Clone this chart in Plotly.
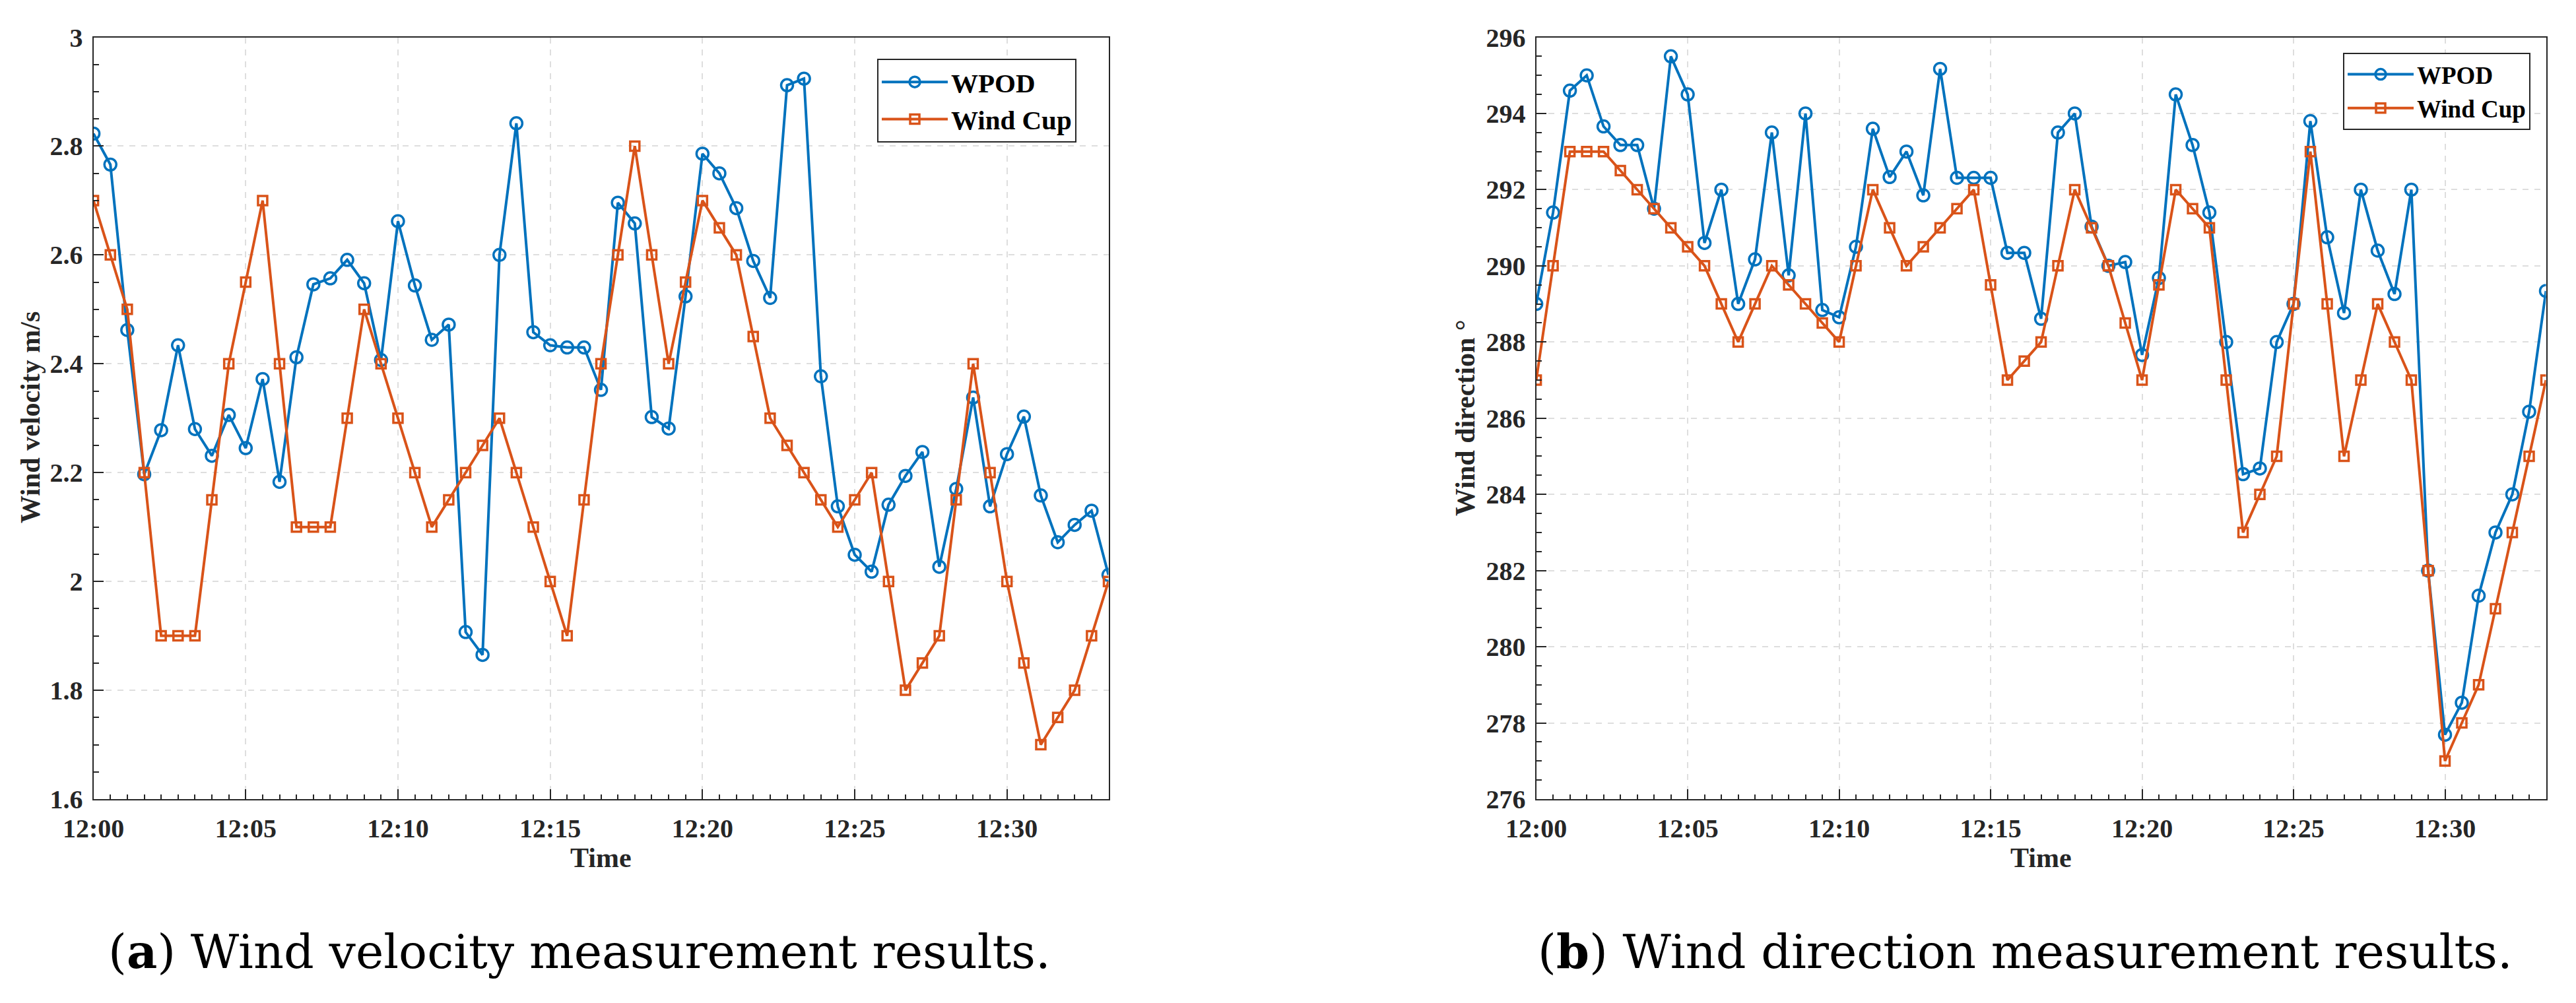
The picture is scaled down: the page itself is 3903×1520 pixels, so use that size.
import plotly.graph_objects as go

# ---------------- data ----------------
idx = list(range(61))  # samples every 1/9 of 5 minutes (12:00 -> 12:33:20)
tick_pos = [0, 9, 18, 27, 36, 45, 54]
tick_text = ["12:00", "12:05", "12:10", "12:15", "12:20", "12:25", "12:30"]

vel_wpod = [2.823, 2.766, 2.462, 2.197, 2.278, 2.434, 2.280, 2.231, 2.306, 2.245,
            2.372, 2.183, 2.412, 2.546, 2.557, 2.591, 2.548, 2.407, 2.662, 2.544,
            2.444, 2.472, 1.907, 1.865, 2.600, 2.842, 2.458, 2.434, 2.430, 2.430,
            2.352, 2.696, 2.658, 2.302, 2.281, 2.524, 2.786, 2.750, 2.686, 2.589,
            2.521, 2.912, 2.924, 2.377, 2.138, 2.049, 2.018, 2.141, 2.194, 2.238,
            2.027, 2.170, 2.338, 2.138, 2.234, 2.303, 2.158, 2.072, 2.104, 2.130,
            2.012]
vel_cup = [2.70, 2.60, 2.50, 2.20, 1.90, 1.90, 1.90, 2.15, 2.40, 2.55,
           2.70, 2.40, 2.10, 2.10, 2.10, 2.30, 2.50, 2.40, 2.30, 2.20,
           2.10, 2.15, 2.20, 2.25, 2.30, 2.20, 2.10, 2.00, 1.90, 2.15,
           2.40, 2.60, 2.80, 2.60, 2.40, 2.55, 2.70, 2.65, 2.60, 2.45,
           2.30, 2.25, 2.20, 2.15, 2.10, 2.15, 2.20, 2.00, 1.80, 1.85,
           1.90, 2.15, 2.40, 2.20, 2.00, 1.85, 1.70, 1.75, 1.80, 1.90,
           2.00]

dir_wpod = [289.0, 291.4, 294.6, 295.0, 293.66, 293.17, 293.17, 291.5, 295.5, 294.5,
            290.6, 292.0, 289.0, 290.17, 293.5, 289.75, 294.0, 288.84, 288.65, 290.5,
            293.6, 292.33, 293.0, 291.85, 295.17, 292.31, 292.31, 292.31, 290.34, 290.34,
            288.61, 293.5, 294.0, 291.03, 290.0, 290.1, 287.66, 289.68, 294.5, 293.17,
            291.4, 288.0, 284.53, 284.68, 288.0, 289.0, 293.8, 290.75, 288.76, 292.0,
            290.4, 289.26, 292.0, 282.0, 277.69, 278.53, 281.34, 283.0, 284.0, 286.17,
            289.34]
dir_cup = [287.0, 290.0, 293.0, 293.0, 293.0, 292.5, 292.0, 291.5, 291.0, 290.5,
           290.0, 289.0, 288.0, 289.0, 290.0, 289.5, 289.0, 288.5, 288.0, 290.0,
           292.0, 291.0, 290.0, 290.5, 291.0, 291.5, 292.0, 289.5, 287.0, 287.5,
           288.0, 290.0, 292.0, 291.0, 290.0, 288.5, 287.0, 289.5, 292.0, 291.5,
           291.0, 287.0, 283.0, 284.0, 285.0, 289.0, 293.0, 289.0, 285.0, 287.0,
           289.0, 288.0, 287.0, 282.0, 277.0, 278.0, 279.0, 281.0, 283.0, 285.0,
           287.0]

series_names = ["WPOD", "Wind Cup"]
captions = ["(<b>a</b>) Wind velocity measurement results.",
            "(<b>b</b>) Wind direction measurement results."]
y_titles = ["Wind velocity m/s", "Wind direction °"]

# ---------------- style ----------------
W, H = 3903, 1520
BLUE = "#0072BD"
ORANGE = "#D95319"
AX = "#262626"
GRID = "#dedede"
FONT = "Liberation Serif"

def px_x(p):
    return p / W

def px_y(p):
    return 1 - p / H

left_dom = [px_x(141.6), px_x(1679.5)]
right_dom = [px_x(2327.6), px_x(3857.5)]
y_dom = [px_y(1211), px_y(56.5)]

fig = go.Figure()

def add_pair(xa, ya, wpod, cup, legend):
    fig.add_trace(go.Scatter(
        x=idx, y=wpod, name=series_names[0], mode="lines+markers",
        xaxis=xa, yaxis=ya, legend=legend,
        line=dict(color=BLUE, width=4),
        marker=dict(symbol="circle-open", size=18, color=BLUE, line=dict(width=3.5, color=BLUE))))
    fig.add_trace(go.Scatter(
        x=idx, y=cup, name=series_names[1], mode="lines+markers",
        xaxis=xa, yaxis=ya, legend=legend,
        line=dict(color=ORANGE, width=4),
        marker=dict(symbol="square-open", size=14, color=ORANGE, line=dict(width=3.5, color=ORANGE))))

add_pair("x", "y", vel_wpod, vel_cup, "legend")
add_pair("x2", "y2", dir_wpod, dir_cup, "legend2")

tickfont = dict(family=FONT, size=40, color=AX, weight="bold")

def xaxis(dom, anchor):
    return dict(domain=dom, anchor=anchor, range=[0, 60], automargin=False,
                tickmode="array", tickvals=tick_pos, ticktext=tick_text,
                ticks="inside", ticklen=15, tickwidth=2, tickcolor=AX,
                minor=dict(dtick=1, tick0=0, ticks="inside", ticklen=7, tickwidth=2,
                           tickcolor=AX, showgrid=False),
                showline=True, linecolor=AX, linewidth=2, mirror=True,
                showgrid=True, gridcolor=GRID, griddash="dash", gridwidth=2,
                zeroline=False, tickfont=tickfont, ticklabelstandoff=8)

def yaxis(dom, anchor, rng, dtick, mdtick):
    return dict(domain=dom, anchor=anchor, range=rng, automargin=False,
                tickmode="linear", tick0=rng[0], dtick=dtick,
                ticks="inside", ticklen=15, tickwidth=2, tickcolor=AX,
                minor=dict(dtick=mdtick, tick0=rng[0], ticks="inside", ticklen=8, tickwidth=2,
                           tickcolor=AX, showgrid=False),
                showline=True, linecolor=AX, linewidth=2, mirror=True,
                showgrid=True, gridcolor=GRID, griddash="dash", gridwidth=2,
                zeroline=False, tickfont=tickfont, ticklabelstandoff=6)

fig.update_layout(
    width=W, height=H,
    margin=dict(l=0, r=0, t=0, b=0, autoexpand=False),
    paper_bgcolor="white", plot_bgcolor="white",
    xaxis=xaxis(left_dom, "y"),
    yaxis=yaxis(y_dom, "x", [1.6, 3.0], 0.2, 0.05),
    xaxis2=xaxis(right_dom, "y2"),
    yaxis2=yaxis(y_dom, "x2", [276, 296], 2, 0.5),
    legend=dict(x=px_x(1631), y=px_y(89), xanchor="right", yanchor="top",
                bgcolor="white", bordercolor=AX, borderwidth=2,
                font=dict(family=FONT, size=41, color="#000000", weight="bold"),
                itemwidth=100, tracegroupgap=0),
    legend2=dict(x=px_x(3834), y=px_y(80), xanchor="right", yanchor="top",
                 bgcolor="white", bordercolor=AX, borderwidth=2,
                 font=dict(family=FONT, size=37, color="#000000", weight="bold"),
                 itemwidth=100, tracegroupgap=0),
    showlegend=True,
)

title_font = dict(family=FONT, size=42, color=AX, weight="bold")
cap_font = dict(family="DejaVu Serif", size=71.5, color="#000000")
annotations = [
    dict(text="Time", x=px_x(910), y=px_y(1300), xref="paper", yref="paper",
         showarrow=False, font=title_font, xanchor="center", yanchor="middle"),
    dict(text="Time", x=px_x(3092), y=px_y(1300), xref="paper", yref="paper",
         showarrow=False, font=title_font, xanchor="center", yanchor="middle"),
    dict(text=y_titles[0], x=px_x(46), y=px_y(633), xref="paper", yref="paper",
         showarrow=False, font=title_font, textangle=-90, xanchor="center", yanchor="middle"),
    dict(text=y_titles[1], x=px_x(2220), y=px_y(633), xref="paper", yref="paper",
         showarrow=False, font=title_font, textangle=-90, xanchor="center", yanchor="middle"),
    dict(text=captions[0], x=px_x(162), y=px_y(1442), xref="paper", yref="paper",
         showarrow=False, font=cap_font, xanchor="left", yanchor="middle"),
    dict(text=captions[1], x=px_x(2328), y=px_y(1442), xref="paper", yref="paper",
         showarrow=False, font=cap_font, xanchor="left", yanchor="middle"),
]
fig.update_layout(annotations=annotations)

fig.write_html("out.html", config={"displayModeBar": False},
               post_script="document.body.style.margin='0';")
